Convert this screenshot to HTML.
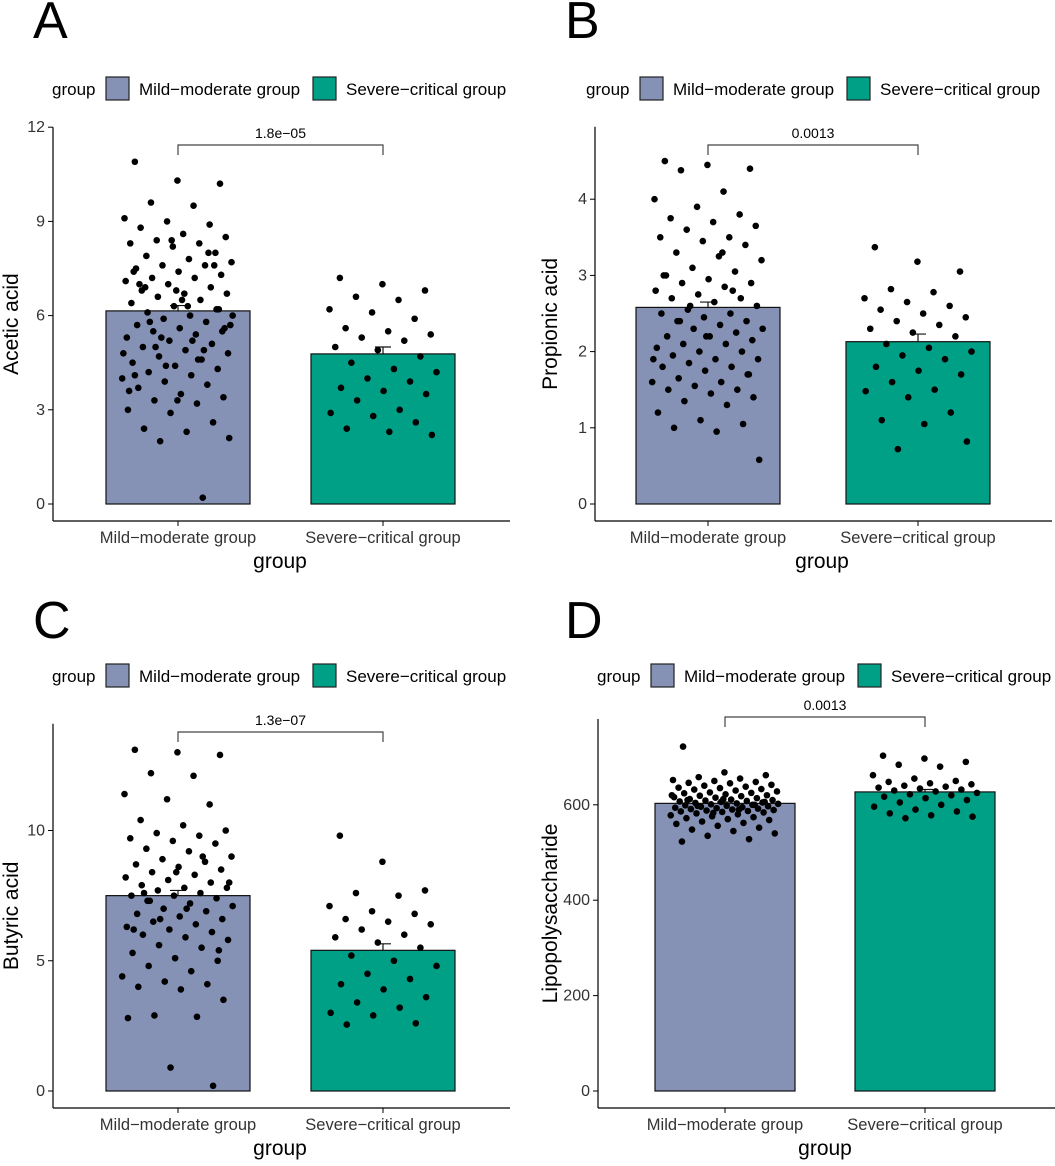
<!DOCTYPE html>
<html><head><meta charset="utf-8"><style>
body{margin:0;background:#fff}
svg text{font-family:"Liberation Sans",sans-serif}
</style></head><body>
<svg id="fig" width="1055" height="1161" viewBox="0 0 1055 1161" xmlns="http://www.w3.org/2000/svg"></svg>
<script>
// ---- Data ----
const categories = ["Mild\u2212moderate group","Severe\u2212critical group"];
const acetMild = [10.9,10.3,10.2,9.6,9.5,9.1,9.0,8.9,8.8,8.6,8.5,8.4,8.3,8.3,8.2,8.0,7.9,7.8,7.7,7.6,7.6,7.5,7.4,7.3,7.2,7.2,7.1,7.0,6.9,6.8,6.7,6.7,6.6,6.5,6.4,6.3,6.2,6.1,6.0,6.0,5.9,5.8,5.7,5.6,5.5,5.5,5.4,5.3,5.2,5.1,5.0,4.9,4.8,4.7,4.6,4.5,4.4,4.3,4.2,4.1,4.0,3.9,3.8,3.7,3.5,3.4,3.3,3.2,3.0,2.9,2.6,2.4,2.3,2.1,2.0,0.2,7.4,6.8,6.2,5.8,5.2,4.8,4.4,8.0,7.0,6.5,5.6,5.0,4.6,3.6,8.4,7.6,6.9,6.3,5.7,5.3,4.9,4.1,3.3];
const acetSev = [7.2,7.0,6.8,6.6,6.5,6.2,6.1,5.9,5.6,5.5,5.4,5.3,5.2,5.0,4.9,4.7,4.5,4.3,4.2,4.0,3.9,3.7,3.6,3.5,3.3,3.0,2.9,2.8,2.6,2.4,2.3,2.2];
const propMild = [4.5,4.45,4.4,4.38,4.1,4.0,3.9,3.8,3.75,3.7,3.65,3.6,3.5,3.5,3.45,3.4,3.3,3.25,3.2,3.1,3.05,3.0,2.95,2.9,2.9,2.85,2.8,2.75,2.7,2.7,2.65,2.6,2.55,2.5,2.5,2.45,2.4,2.4,2.35,2.3,2.3,2.25,2.2,2.2,2.15,2.1,2.1,2.05,2.0,2.0,1.95,1.9,1.9,1.85,1.8,1.8,1.75,1.7,1.65,1.6,1.6,1.55,1.5,1.5,1.45,1.4,1.35,1.3,1.2,1.1,1.05,1.0,0.95,0.58,2.6,2.8,3.0,2.2,1.7,2.4,3.3,1.9];
const propSev = [3.37,3.18,3.05,2.82,2.78,2.7,2.65,2.6,2.55,2.5,2.45,2.4,2.35,2.3,2.25,2.2,2.1,2.05,2.0,1.95,1.9,1.8,1.75,1.7,1.6,1.5,1.48,1.4,1.2,1.1,1.05,0.82,0.72];
const butMild = [13.1,13.0,12.9,12.2,12.1,11.4,11.2,11.0,10.4,10.2,10.0,9.9,9.8,9.7,9.6,9.5,9.3,9.2,9.0,8.9,8.8,8.7,8.6,8.5,8.4,8.3,8.2,8.1,8.0,7.9,7.8,7.8,7.7,7.6,7.5,7.5,7.4,7.3,7.2,7.1,7.0,6.9,6.8,6.7,6.6,6.5,6.4,6.3,6.2,6.1,6.0,5.9,5.8,5.6,5.5,5.3,5.1,5.0,4.8,4.6,4.4,4.2,4.1,4.0,3.9,3.5,2.9,2.85,2.8,0.9,0.2,7.6,7.0,8.0,6.6,9.0,6.2,8.4,5.4,7.3];
const butSev = [9.8,8.8,7.7,7.6,7.5,7.1,6.9,6.8,6.6,6.5,6.4,6.2,6.0,5.9,5.7,5.5,5.2,5.0,4.8,4.5,4.3,4.1,3.9,3.6,3.4,3.2,3.0,2.9,2.6,2.55];
const lpsMild = [722,668,662,658,655,652,650,648,646,645,642,640,638,636,635,633,632,630,628,626,625,624,622,620,619,618,616,615,614,612,611,610,609,608,607,606,605,604,603,602,601,600,599,598,597,596,595,594,593,592,591,590,589,588,587,586,585,584,582,580,578,576,574,572,570,568,565,562,560,556,552,548,545,540,535,528,523,612,606,598,590,620,583,600,610];
const lpsSev = [703,697,690,684,680,662,655,650,648,645,643,640,638,636,634,632,630,628,625,622,620,617,614,610,605,600,596,590,586,582,578,575,572];
const means = {A:[6.15,4.78],B:[2.58,2.13],C:[7.5,5.4],D:[603,627]};
const sems = {A:[0.17,0.22],B:[0.07,0.1],C:[0.2,0.25],D:[3,5]};
const pvals = {A:"1.8e\u221205",B:"0.0013",C:"1.3e\u221207",D:"0.0013"};

const NS="http://www.w3.org/2000/svg";
const svg=document.getElementById('fig');
function mk(tag,attrs,parent,text){const e=document.createElementNS(NS,tag);for(const k in attrs)e.setAttribute(k,attrs[k]);if(text!==undefined)e.textContent=text;(parent||svg).appendChild(e);return e;}
const colors=["#8591b5","#00a087"];

function panel(p){
  const g=mk('g',{});
  
  
  const yS=v=>p.y0-(v-0)*p.k;
  const L=mk('text',{x:p.lx,y:p.ly,'font-size':52},g,p.letter);
  
  
  const lg=mk('g',{},g);
  
  
  mk('text',{x:p.gx,y:p.ly0+18,'font-size':17},lg,'group');
  const sw=[p.gx+54,p.gx+261];
  categories.forEach((c,i)=>{
    const r=mk('rect',{x:sw[i],y:p.ly0,width:23,height:23,fill:colors[i],stroke:'#222','stroke-width':1.2},lg);
    
    
    const t=mk('text',{x:sw[i]+33,y:p.ly0+18,'font-size':17},lg,c);
    
    
  });
  const top=p.y0-p.k*p.ymax, bot=p.y0+17;
  const ax=mk('line',{x1:p.ax,y1:top,x2:p.ax,y2:bot,stroke:'#000','stroke-width':1.2},g);
  
  
  const bx=mk('line',{x1:p.ax,y1:bot,x2:p.ax+457,y2:bot,stroke:'#000','stroke-width':1.2},g);
  
  
  p.ticks.forEach(t=>{
    mk('line',{x1:p.ax-5,y1:yS(t),x2:p.ax,y2:yS(t),stroke:'#000'},g);
    const tl=mk('text',{x:p.ax-8,y:yS(t)+5,'font-size':16,'text-anchor':'end',fill:'#333'},g,t);
    
    
  });
  const yt=mk('text',{transform:`translate(${p.ytx},${(top+bot)/2}) rotate(-90)`,'font-size':21,'text-anchor':'middle'},g,p.ytitle);
  
  
  const xt=mk('text',{x:p.ax+227,y:bot+47,'font-size':21,'text-anchor':'middle'},g,'group');
  
  
  const data=[p.d1,p.d2];
  categories.forEach((c,i)=>{
    const cx=p.cx[i];
    mk('line',{x1:cx,y1:bot,x2:cx,y2:bot+5,stroke:'#000'},g);
    const xl=mk('text',{x:cx,y:bot+22,'font-size':16.5,'text-anchor':'middle',fill:'#333'},g,c);
    
    
    const m=means[p.letter][i], s=sems[p.letter][i];
    const b=mk('rect',{x:cx-p.hw,y:yS(m),width:2*p.hw,height:yS(0)-yS(m),fill:colors[i],stroke:'#111','stroke-width':1.2},g);
    
    
    const e=mk('path',{d:`M${cx-8},${yS(m+s)}H${cx+8}M${cx},${yS(m+s)}V${yS(m)}`,stroke:'#111','stroke-width':1.2,fill:'none'},g);
    
    
    data[i].forEach((v,j)=>{
      const off=(((j*37+11)%97)/97-0.5)*p.hw*1.55;
      const pt=mk('circle',{cx:cx+off,cy:yS(v),r:3.3,fill:'#000'},g);
      
      
    });
  });
  const br=mk('path',{d:`M${p.cx[0]},${p.by+10}V${p.by}H${p.cx[1]}V${p.by+10}`,stroke:'#444','stroke-width':1.2,fill:'none'},g);
  
  
  const pv=mk('text',{x:(p.cx[0]+p.cx[1])/2,y:p.by-7,'font-size':14,'text-anchor':'middle'},g,pvals[p.letter]);
  
  
}
panel({letter:'A',lx:33,ly:38,gx:52,ly0:77,ax:53,ytx:18,y0:504,k:31.4,ymax:12,ticks:[0,3,6,9,12],cx:[178,383],hw:72,d1:acetMild,d2:acetSev,ytitle:'Acetic acid',by:145});
panel({letter:'B',lx:565,ly:38,gx:586,ly0:77,ax:595,ytx:557,y0:504,k:76.2,ymax:4.95,ticks:[0,1,2,3,4],cx:[708,918],hw:72,d1:propMild,d2:propSev,ytitle:'Propionic acid',by:145});
panel({letter:'C',lx:33,ly:638,gx:52,ly0:664,ax:53,ytx:18,y0:1091,k:26.05,ymax:14.1,ticks:[0,5,10],cx:[178,383],hw:72,d1:butMild,d2:butSev,ytitle:'Butyric acid',by:732});
panel({letter:'D',lx:565,ly:638,gx:597,ly0:664,ax:598,ytx:557,y0:1091,k:0.477,ymax:780,ticks:[0,200,400,600],cx:[725,925],hw:70,d1:lpsMild,d2:lpsSev,ytitle:'Lipopolysaccharide',by:717});
</script>
</body></html>
